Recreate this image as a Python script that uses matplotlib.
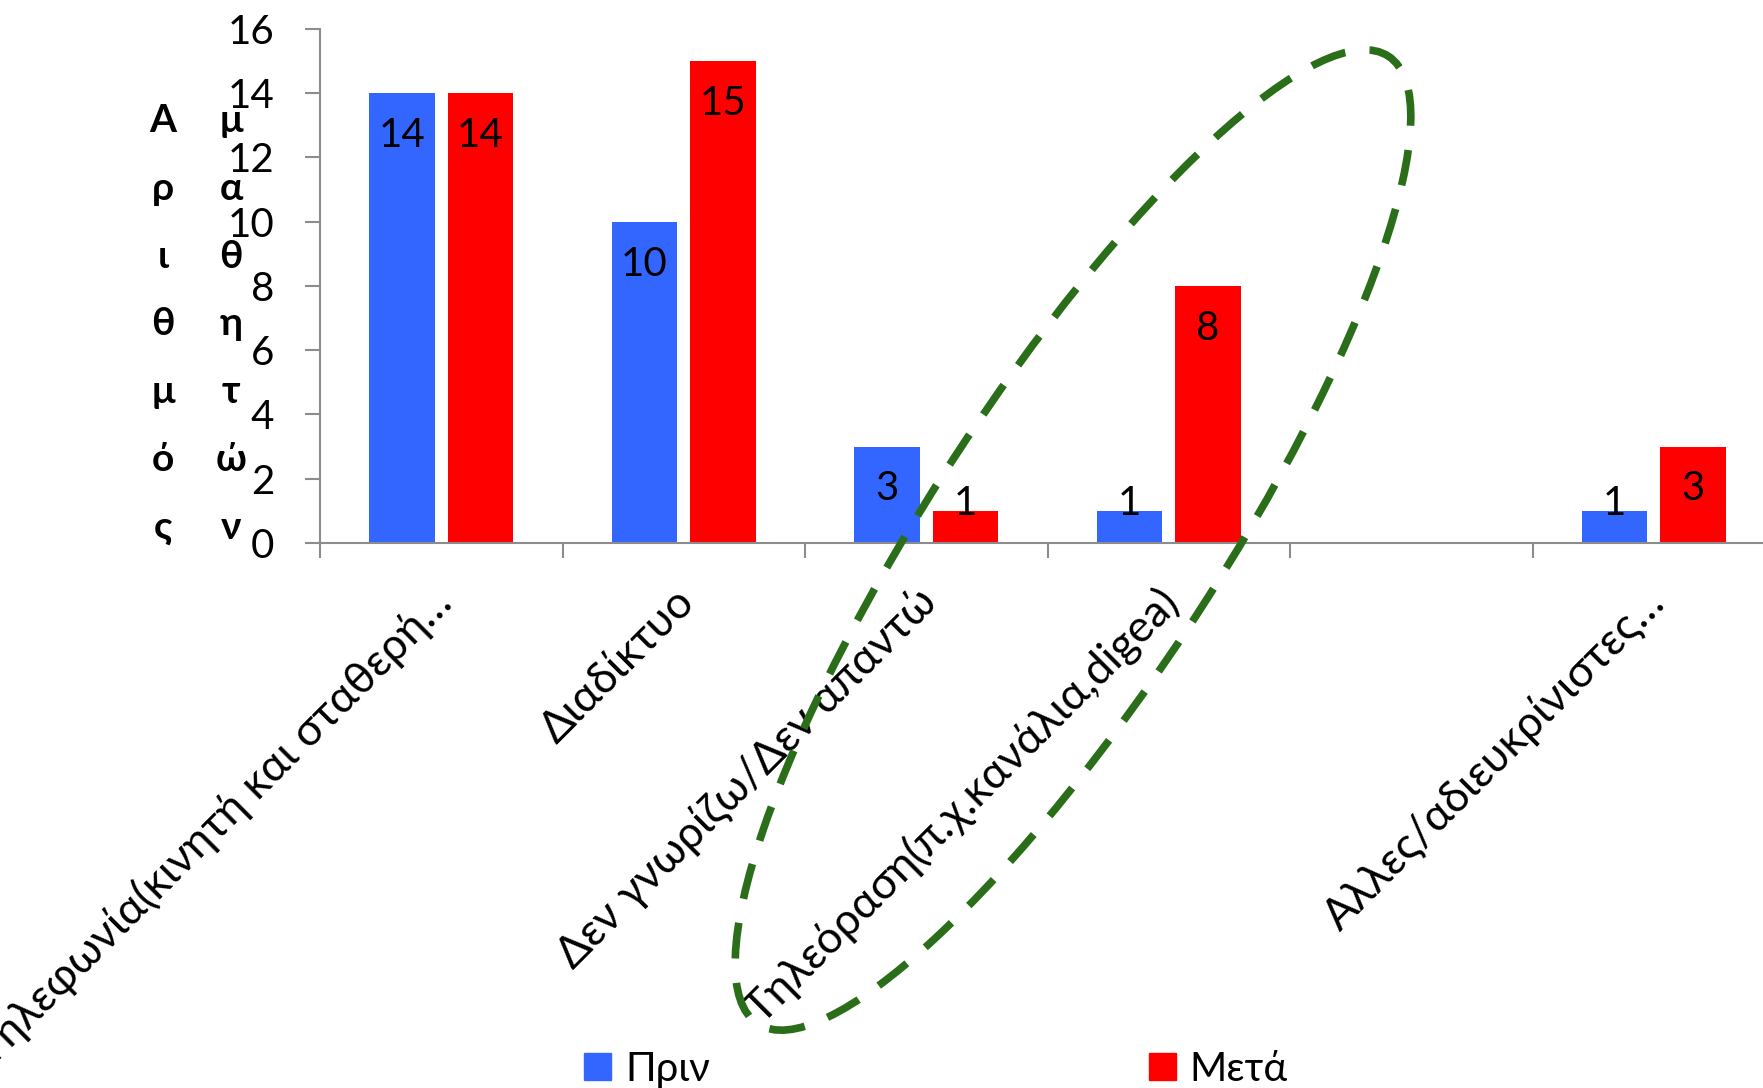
import numpy as np
import matplotlib.pyplot as plt
from matplotlib.patches import Ellipse, Patch
from matplotlib.transforms import ScaledTranslation

plt.rcParams['font.family'] = ['Lato', 'Open Sans', 'DejaVu Sans']

# ---- data ----
categories = ['Τηλεφωνία(κινητή και σταθερή…', 'Διαδίκτυο', 'Δεν γνωρίζω/Δεν απαντώ',
              'Τηλεόραση(π.χ.κανάλια,digea)', '', 'Αλλες/αδιευκρίνιστες…']
prin = [14, 10, 3, 1, np.nan, 1]
meta = [14, 15, 1, 8, np.nan, 3]
series_names = ['Πριν', 'Μετά']
yticks = np.arange(0, 17, 2)
ylabel_words = ['Αριθμός', 'μαθητών']

BLUE = '#3366FF'
RED = '#FF0000'
GREY = '#8C8C8C'
GREEN = '#2A6E1A'

fig = plt.figure(figsize=(17.63, 10.88), dpi=100)
ax = fig.add_axes([0.1815, 0.501, 0.8185, 0.4724])

x = np.arange(len(categories))
width, off = 0.27, 0.162
bars_prin = ax.bar(x - off, prin, width, color=BLUE)
bars_meta = ax.bar(x + off, meta, width, color=RED)

ax.set_xlim(-0.5, 5.45)
ax.set_ylim(0, 16)
ax.set_yticks(yticks)
ax.tick_params(axis='y', length=11, width=1.5, color=GREY, pad=22, labelsize=29)

# category labels sit at the centres, tick marks at the boundaries
ax.set_xticks(x)
ax.set_xticks(np.arange(-0.5, len(categories) - 0.5, 1), minor=True)
ax.tick_params(axis='x', which='major', length=0, pad=38)
ax.tick_params(axis='x', which='minor', length=11, width=1.5, color=GREY)
ax.set_xticklabels(categories, rotation=45, ha='right', va='center',
                   rotation_mode='anchor', fontsize=32)
shift = ScaledTranslation(4 / 100, 0, fig.dpi_scale_trans)
for lab in ax.get_xticklabels():
    lab.set_transform(lab.get_transform() + shift)

for side in ['top', 'right']:
    ax.spines[side].set_visible(False)
for side in ['left', 'bottom']:
    ax.spines[side].set_color(GREY)
    ax.spines[side].set_linewidth(1.5)

# value labels: inside the bar end, pushed up for short bars
for bars, vals in [(bars_prin, prin), (bars_meta, meta)]:
    for rect, v in zip(bars, vals):
        if np.isnan(v):
            continue
        ax.annotate(f'{v:g}', (rect.get_x() + rect.get_width() / 2, max(v, 2.56)),
                    xytext=(0, -30.5), textcoords='offset points',
                    ha='center', va='center', fontsize=29)

# y label written letter by letter in two columns
col_x = [0.0925, 0.131]
for j, word in enumerate(ylabel_words):
    for i, ch in enumerate(word):
        fig.text(col_x[j], 0.8787 - i * 0.0623, ch, ha='center', va='baseline',
                 fontsize=28, fontweight='bold')

handles = [Patch(color=BLUE), Patch(color=RED)]
fig.legend(handles, series_names, loc='lower center', bbox_to_anchor=(0.531, 0.0),
           ncol=2, frameon=False, fontsize=29, handlelength=0.66, handleheight=0.66,
           handletextpad=0.35, columnspacing=10.9, borderaxespad=0, borderpad=0.0)

# dashed highlight around the Τηλεόραση group
ell = Ellipse((10.73, 5.48), 11.55, 2.89, angle=56.9, transform=fig.dpi_scale_trans,
              fill=False, edgecolor=GREEN, lw=5.5, linestyle=(0, (4.7, 3.2)), zorder=10)
fig.add_artist(ell)

fig.savefig('out.png', dpi=100)
